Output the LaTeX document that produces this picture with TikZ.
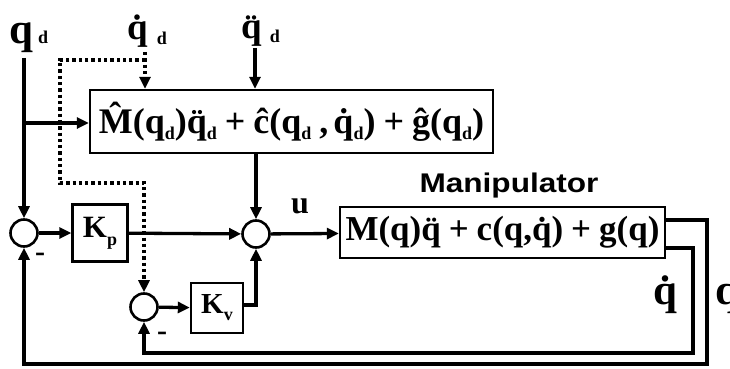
\documentclass[tikz,border=0pt]{standalone}
\usepackage{fontspec}
\setmainfont{Liberation Serif}
\newfontfamily\labelsans{Liberation Sans}
\usetikzlibrary{arrows.meta}
\newcommand\sbd[2][-6pt]{\raisebox{#1}{\fontsize{18}{18}\selectfont #2}}
\newcommand\gp{\hspace{8pt}}
\tikzset{
  ln/.style={line width=3.3pt},
  arr/.style={ln,-{Triangle[length=12pt,width=11pt]}},
  dotln/.style={line width=3.3pt,dash pattern=on 3.3pt off 3pt},
  darr/.style={dotln,-{Triangle[length=12pt,width=11pt]}},
  sumc/.style={circle,draw,line width=2.6pt,minimum size=27pt,inner sep=0pt},
  blk/.style={draw,line width=2.4pt,inner sep=0pt,font=\bfseries\fontsize{35}{38}\selectfont},
  lab/.style={inner sep=0pt,anchor=base west,font=\bfseries\fontsize{37}{38}\selectfont},
  minus/.style={inner sep=0pt,font=\bfseries\fontsize{30}{30}\selectfont},
}
\begin{document}
\begin{tikzpicture}[x=1pt,y=-1pt]
\useasboundingbox (0,0) rectangle (730,369);
% nodes
\node[sumc] (s1) at (24,233) {};
\node[sumc] (s2) at (144,307) {};
\node[sumc] (s3) at (256,234) {};
\node[blk,minimum width=55pt,minimum height=57pt,font=\bfseries\fontsize{31}{32}\selectfont] (kp) at (100,233) {K\sbd[-8pt]{p}};
\node[blk,minimum width=52pt,minimum height=50pt,font=\bfseries\fontsize{29}{30}\selectfont] (kv) at (217,308) {K\sbd[-7pt]{v}};
\node[blk,minimum width=403pt,minimum height=63pt,font=\bfseries\fontsize{36}{38}\selectfont] (ff) at (291.5,121.5)
  {\^{M}(q\sbd{d})\"{q}\sbd{d}\gp+\gp\^{c}(q\sbd{d}\gp,\hspace{5pt}\.{q}\sbd{d})\gp+\gp\^{g}(q\sbd{d})};
\node[blk,minimum width=325pt,minimum height=51pt] (pl) at (502.5,232.5)
  {M(q)\"{q}\gp+\gp c(q,\.{q})\gp+\gp g(q)};
% labels
\node[lab,font=\bfseries\fontsize{43}{44}\selectfont] (lqd) at (9,44) {q\hspace{5pt}\sbd[0pt]{d}};
\node[lab] (lqdd) at (127,40) {\.{q}\hspace{9pt}\sbd[-5pt]{d}};
\node[lab] (lqddd) at (241,39) {\"{q}\hspace{8pt}\sbd[-4pt]{d}};
\node[lab,font=\bfseries\fontsize{32}{34}\selectfont] (lu) at (291,213) {u};
\node[inner sep=0pt,font=\labelsans\bfseries\fontsize{27}{29}\selectfont] (lman) at (509,186) {\scalebox{1.17}[1]{Manipulator}};
\node[lab,font=\bfseries\fontsize{43}{44}\selectfont] (lqdot) at (653,304) {\.{q}};
\node[lab,font=\bfseries\fontsize{43}{44}\selectfont] (lq) at (715,304) {q};
\node[minus] (m1) at (40,257) {-};
\node[minus] (m2) at (162,336) {-};
% coordinates
\coordinate (qdtop) at (24,58);
\coordinate (qdbr) at (24,123);
\coordinate (dtop) at (145,52);
\coordinate (dbr) at (145,60);
\coordinate (dl) at (60,60);
\coordinate (dd) at (60,183);
\coordinate (ddtop) at (255,48);
\coordinate (kvout) at (243,305);
\coordinate (pq) at (665,220);
\coordinate (pqd) at (665,248);
% dotted connectors
\draw[darr] (dtop) -- (dtop |- ff.north);
\draw[darr] (dbr) -- (dl) -- (dd) -| (s2.north);
% solid connectors
\draw[arr] (qdtop) -- (s1.north);
\draw[arr] (qdbr) -- (qdbr -| ff.west);
\draw[arr] (ddtop) -- (ddtop |- ff.north);
\draw[arr] (ff.south -| s3) -- (s3.north);
\draw[arr] (s1) -- (kp);
\draw[arr] (kp) -- (s3);
\draw[arr] (s2) -- (kv);
\draw[arr] (kvout) -| (s3.south);
\draw[arr] (s3) -- (pl);
\draw[arr] (pq) -- (707,220) -- (707,364) -| (s1.south);
\draw[arr] (pqd) -- (693,248) -- (693,353) -| (s2.south);
\end{tikzpicture}
\end{document}
